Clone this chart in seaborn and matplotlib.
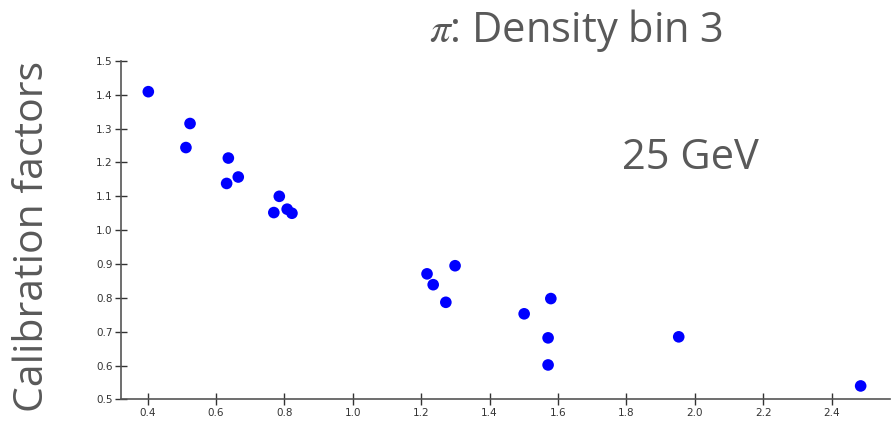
import matplotlib
matplotlib.use("Agg")
import matplotlib.pyplot as plt
import seaborn as sns
import pandas as pd

# Calibration factor per pion energy-density value (density bin 3, 25 GeV)
density = [0.402, 0.524, 0.512, 0.636, 0.631, 0.665, 0.785, 0.769, 0.808, 0.822,
           1.217, 1.235, 1.299, 1.272, 1.501, 1.579, 1.571, 1.571, 1.953, 2.485]
calib = [1.409, 1.315, 1.244, 1.213, 1.138, 1.157, 1.100, 1.052, 1.062, 1.050,
         0.871, 0.839, 0.895, 0.787, 0.753, 0.798, 0.682, 0.602, 0.685, 0.540]

x_ticks = [0.4, 0.6, 0.8, 1.0, 1.2, 1.4, 1.6, 1.8, 2.0, 2.2, 2.4]
y_ticks = [0.5, 0.6, 0.7, 0.8, 0.9, 1.0, 1.1, 1.2, 1.3, 1.4, 1.5]

df = pd.DataFrame({"density": density, "calib": calib})

sns.set_style("white")
plt.rcParams["font.family"] = ["DejaVu Sans"]
plt.rcParams["mathtext.fontset"] = "stix"

fig = plt.figure(figsize=(8.96, 4.23), dpi=100)
ax = fig.add_axes([0.135, 0.0556, 0.858, 0.8005])

sns.scatterplot(data=df, x="density", y="calib", ax=ax, color="#0000ff",
                s=70, edgecolor="none", legend=False)

ax.set_xlim(0.322, 2.57)
ax.set_ylim(0.5, 1.5)
ax.set_xticks(x_ticks)
ax.set_yticks(y_ticks)
ax.set_xticklabels([f"{v:.1f}" for v in x_ticks])
ax.set_yticklabels([f"{v:.1f}" for v in y_ticks])
ax.tick_params(bottom=True, left=True, direction="inout", length=8, width=1,
               colors="#333333", labelsize=7.5, labelcolor="#333333", pad=2)

for side in ("top", "right"):
    ax.spines[side].set_visible(False)
for side in ("left", "bottom"):
    ax.spines[side].set_color("#555555")
    ax.spines[side].set_linewidth(1.2)

ax.set_xlabel("")
ax.set_ylabel("")

label_font = ["Open Sans", "DejaVu Sans"]
fig.text(0.037, 0.440, "Calibration factors", rotation=90, ha="center", va="center",
         fontsize=29.5, color="#595959", family=label_font)
fig.text(0.6425, 0.9007, r"$\pi$: Density bin 3", ha="center", va="baseline",
         fontsize=30, color="#595959", family=label_font)
fig.text(0.771, 0.5998, "25 GeV", ha="center", va="baseline",
         fontsize=30, color="#595959", family=label_font)

fig.savefig("out.png", dpi=100, facecolor="white")
